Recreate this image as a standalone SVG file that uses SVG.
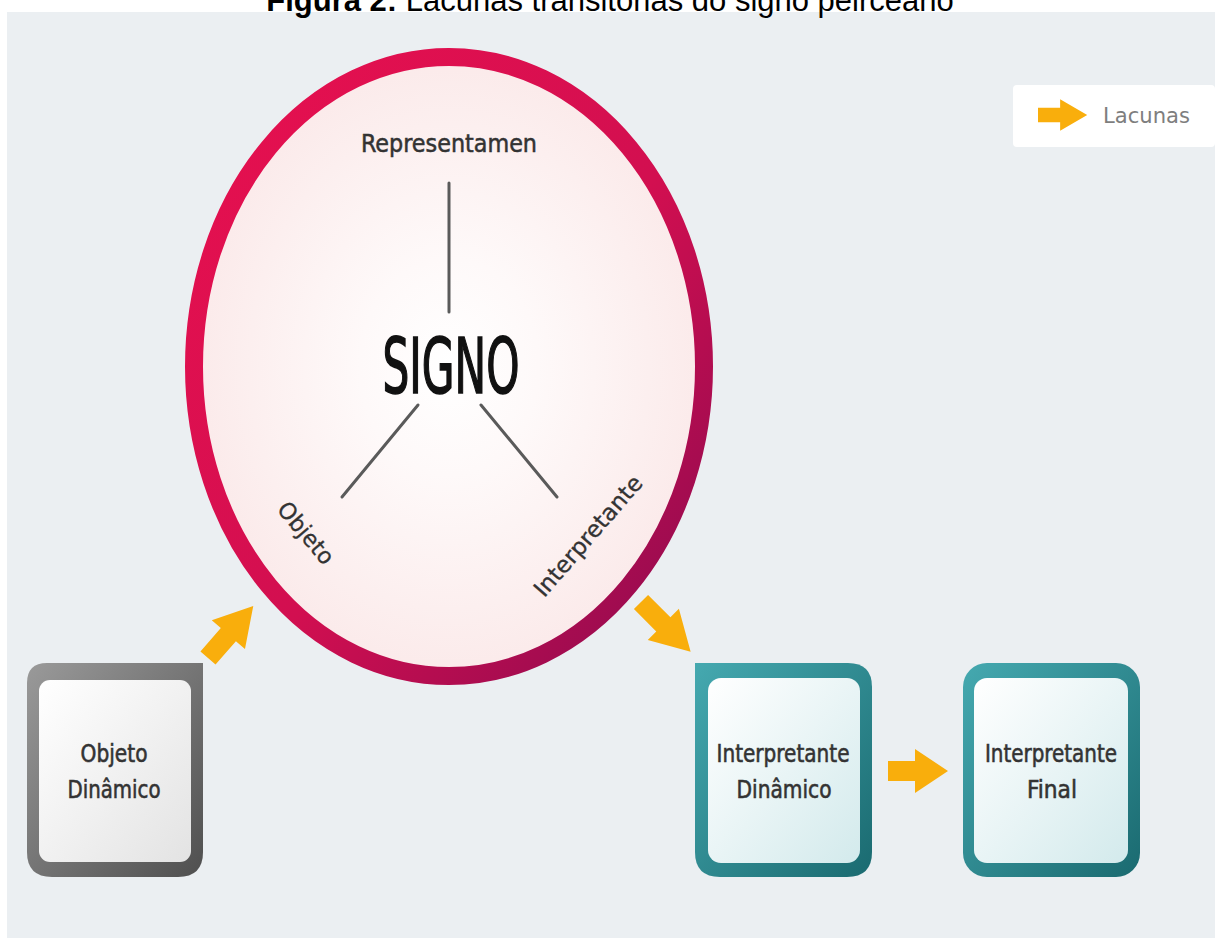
<svg xmlns="http://www.w3.org/2000/svg" width="1215" height="938" viewBox="0 0 1215 938">
  <defs>
    <linearGradient id="ringGrad" x1="0" y1="0" x2="1" y2="1">
      <stop offset="0" stop-color="#E8104F"/>
      <stop offset="0.55" stop-color="#D20F50"/>
      <stop offset="1" stop-color="#8A0A50"/>
    </linearGradient>
    <radialGradient id="signFill" cx="0.5" cy="0.5" r="0.5">
      <stop offset="0" stop-color="#FFFFFF"/>
      <stop offset="0.35" stop-color="#FEF9F9"/>
      <stop offset="1" stop-color="#FBEAEA"/>
    </radialGradient>
    <linearGradient id="tealGrad" x1="0" y1="0" x2="1" y2="1">
      <stop offset="0" stop-color="#45A9B0"/>
      <stop offset="1" stop-color="#1A6A70"/>
    </linearGradient>
    <linearGradient id="grayGrad" x1="0" y1="0" x2="1" y2="1">
      <stop offset="0" stop-color="#9A9A9A"/>
      <stop offset="1" stop-color="#4F4F4F"/>
    </linearGradient>
    <linearGradient id="tealInner" x1="0" y1="0" x2="1" y2="1">
      <stop offset="0" stop-color="#FFFFFF"/>
      <stop offset="1" stop-color="#D3EAEC"/>
    </linearGradient>
    <linearGradient id="grayInner" x1="0" y1="0" x2="1" y2="1">
      <stop offset="0" stop-color="#FFFFFF"/>
      <stop offset="1" stop-color="#E3E3E3"/>
    </linearGradient>
    <path id="lacuna" d="M0,-10 H27 V-22 L60,0 L27,22 V10 H0 Z"/>
  </defs>
  <style>
    .title { font-family: "Liberation Sans", Arial, sans-serif; font-size: 31px; fill: #000; }
    .lbl { font-family: "DejaVu Sans Condensed", "Liberation Sans", sans-serif; fill: #333333; }
    .med { stroke: #333333; stroke-width: 0.5; }
    .box { font-size: 24px; text-anchor: middle; fill: #333333; stroke: #333333; stroke-width: 0.55; }
    .spoke { stroke: #5A5A5A; stroke-width: 3; stroke-linecap: round; }
    .arrow { fill: #F9AE0C; }
  </style>

  <rect x="0" y="0" width="1215" height="938" fill="#FFFFFF"/>
  <rect x="7" y="12" width="1208" height="926" fill="#EBEFF2"/>

  <text class="title" x="610" y="11" text-anchor="middle"><tspan font-weight="bold">Figura 2:</tspan> Lacunas transitórias do signo peirceano</text>

  <g id="legend">
    <rect x="1013" y="85" width="202" height="62" rx="4" fill="#FFFFFF"/>
    <use href="#lacuna" class="arrow" transform="translate(1038,115) scale(0.82,0.72)"/>
    <text class="lbl" x="1103" y="123" font-size="22" style="fill:#7E7E7E" textLength="87" lengthAdjust="spacingAndGlyphs">Lacunas</text>
  </g>

  <g id="signo">
    <ellipse cx="449" cy="366.5" rx="255" ry="309.5" fill="url(#signFill)" stroke="url(#ringGrad)" stroke-width="18"/>
    <text class="lbl med" x="449" y="152" font-size="25" text-anchor="middle" textLength="176" lengthAdjust="spacingAndGlyphs">Representamen</text>
    <text class="lbl" x="451" y="393" font-size="76" text-anchor="middle" style="fill:#111111;stroke:#111111;stroke-width:1.6" textLength="137" lengthAdjust="spacingAndGlyphs">SIGNO</text>
    <text class="lbl med" transform="translate(306,533) rotate(50)" x="0" y="8" font-size="23" text-anchor="middle" style="stroke-width:0.3" textLength="74" lengthAdjust="spacingAndGlyphs">Objeto</text>
    <text class="lbl med" transform="translate(588,536) rotate(-49)" x="0" y="8" font-size="23" text-anchor="middle" style="stroke-width:0.3" textLength="152" lengthAdjust="spacingAndGlyphs">Interpretante</text>
  </g>

  <g id="connectors">
    <line class="spoke" x1="449" y1="183" x2="449" y2="312"/>
    <line class="spoke" x1="418" y1="405" x2="342" y2="497"/>
    <line class="spoke" x1="481" y1="405" x2="557" y2="497"/>
    <use href="#lacuna" class="arrow" transform="translate(208,658) rotate(-49) scale(1.15,1.0)"/>
    <use href="#lacuna" class="arrow" transform="translate(641,602) rotate(45) scale(1.17,1.0)"/>
    <use href="#lacuna" class="arrow" transform="translate(888,771)"/>
  </g>

  <g id="objeto-dinamico">
    <path d="M47,663 H203 V852 Q203,877 178,877 H52 Q27,877 27,852 V683 Q27,663 47,663 Z" fill="url(#grayGrad)"/>
    <rect x="39" y="680" width="152" height="182" rx="11" fill="url(#grayInner)"/>
    <text class="lbl box" x="114" y="762" textLength="67" lengthAdjust="spacingAndGlyphs">Objeto</text>
    <text class="lbl box" x="114" y="798" textLength="93" lengthAdjust="spacingAndGlyphs">Dinâmico</text>
  </g>

  <g id="interpretante-dinamico">
    <path d="M695,663 H848 Q872,663 872,687 V852 Q872,877 847,877 H720 Q695,877 695,852 Z" fill="url(#tealGrad)"/>
    <rect x="708" y="678" width="152" height="185" rx="13" fill="url(#tealInner)"/>
    <text class="lbl box" x="783" y="762" textLength="133" lengthAdjust="spacingAndGlyphs">Interpretante</text>
    <text class="lbl box" x="784" y="798" textLength="95" lengthAdjust="spacingAndGlyphs">Dinâmico</text>
  </g>

  <g id="interpretante-final">
    <rect x="963" y="663" width="177" height="214" rx="24" fill="url(#tealGrad)"/>
    <rect x="974" y="678" width="154" height="185" rx="13" fill="url(#tealInner)"/>
    <text class="lbl box" x="1051" y="762" textLength="132" lengthAdjust="spacingAndGlyphs">Interpretante</text>
    <text class="lbl box" x="1052" y="798" textLength="50" lengthAdjust="spacingAndGlyphs">Final</text>
  </g>
</svg>
